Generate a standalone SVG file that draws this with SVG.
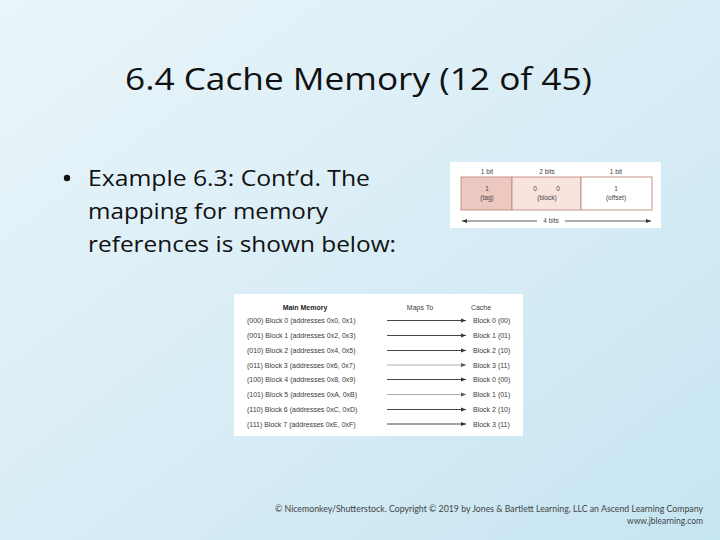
<svg xmlns="http://www.w3.org/2000/svg" width="720" height="540" viewBox="0 0 720 540">
  <defs>
    <linearGradient id="bg" x1="0" y1="0" x2="1" y2="1">
      <stop offset="0" stop-color="#eaf5fa"/>
      <stop offset="0.5" stop-color="#d9edf6"/>
      <stop offset="1" stop-color="#c6e5f2"/>
    </linearGradient>
    <marker id="ah" viewBox="0 0 10 10" refX="10" refY="5" markerWidth="6" markerHeight="5" orient="auto" markerUnits="userSpaceOnUse">
      <path d="M0,1 L10,5 L0,9 Z" fill="#333"/>
    </marker>
    <marker id="ahl" viewBox="0 0 10 10" refX="10" refY="5" markerWidth="6" markerHeight="5" orient="auto" markerUnits="userSpaceOnUse">
      <path d="M0,1 L10,5 L0,9 Z" fill="#555"/>
    </marker>
  </defs>
  <style>
    .title { font-family: "Open Sans", "Liberation Sans", sans-serif; font-size: 31px; fill: #111; }
    .body { font-family: "Open Sans", "Liberation Sans", sans-serif; font-size: 21px; fill: #111; }
    .sm { font-family: "Liberation Sans", Arial, sans-serif; font-size: 7px; fill: #3a3a3a; }
    .smb { font-family: "Liberation Sans", Arial, sans-serif; font-size: 7px; fill: #222; font-weight: bold; }
    .tiny { font-family: "Liberation Sans", Arial, sans-serif; font-size: 6.5px; fill: #444; text-anchor: middle; }
    .foot { font-family: "Lato", "Noto Sans", sans-serif; font-size: 9px; fill: #444; text-anchor: end; }
    .arr { stroke: #333; stroke-width: 0.9; fill: none; marker-end: url(#ah); }
    .arrl { stroke: #888; stroke-width: 0.7; fill: none; marker-end: url(#ahl); }
    .panel { fill: #ffffff; }
    .cell { stroke: #c28a80; stroke-width: 0.9; }
  </style>
  <rect width="720" height="540" fill="url(#bg)"/>

  <g id="title">
    <text class="title" x="125" y="90" textLength="467" lengthAdjust="spacingAndGlyphs">6.4 Cache Memory (12 of 45)</text>
  </g>

  <g id="bullet">
    <circle cx="67" cy="178" r="3.2" fill="#111"/>
    <text class="body" x="88" y="186" textLength="282" lengthAdjust="spacingAndGlyphs">Example 6.3: Cont’d. The</text>
    <text class="body" x="88" y="219" textLength="240" lengthAdjust="spacingAndGlyphs">mapping for memory</text>
    <text class="body" x="88" y="252" textLength="308" lengthAdjust="spacingAndGlyphs">references is shown below:</text>
  </g>

  <g id="address-format">
    <rect class="panel" x="450" y="162" width="211" height="66"/>
    <text class="tiny" x="487" y="174">1 bit</text>
    <text class="tiny" x="547" y="174">2 bits</text>
    <text class="tiny" x="616" y="174">1 bit</text>
    <rect class="cell" x="461" y="177" width="51" height="33" fill="#ecc8c0"/>
    <rect class="cell" x="512" y="177" width="69" height="33" fill="#f8e3df"/>
    <rect class="cell" x="581" y="177" width="71" height="33" fill="#ffffff"/>
    <text class="tiny" x="487" y="191">1</text>
    <text class="tiny" x="487" y="200">(tag)</text>
    <text class="tiny" x="535" y="191">0</text>
    <text class="tiny" x="558" y="191">0</text>
    <text class="tiny" x="547" y="200">(block)</text>
    <text class="tiny" x="616" y="191">1</text>
    <text class="tiny" x="616" y="200">(offset)</text>
    <text class="tiny" x="551" y="223">4 bits</text>
  </g>

  <g id="mapping-table">
    <rect class="panel" x="234" y="294" width="289" height="142"/>
    <text class="smb" x="305" y="310" text-anchor="middle">Main Memory</text>
    <text class="sm" x="420" y="310" text-anchor="middle">Maps To</text>
    <text class="sm" x="481" y="310" text-anchor="middle">Cache</text>

    <text class="sm" x="247" y="323">(000) Block 0 (addresses 0x0, 0x1)</text>
    <text class="sm" x="247" y="338">(001) Block 1 (addresses 0x2, 0x3)</text>
    <text class="sm" x="247" y="353">(010) Block 2 (addresses 0x4, 0x5)</text>
    <text class="sm" x="247" y="367.5">(011) Block 3 (addresses 0x6, 0x7)</text>
    <text class="sm" x="247" y="382">(100) Block 4 (addresses 0x8, 0x9)</text>
    <text class="sm" x="247" y="397">(101) Block 5 (addresses 0xA, 0xB)</text>
    <text class="sm" x="247" y="412">(110) Block 6 (addresses 0xC, 0xD)</text>
    <text class="sm" x="247" y="426.5">(111) Block 7 (addresses 0xE, 0xF)</text>

    <text class="sm" x="473" y="323">Block 0 (00)</text>
    <text class="sm" x="473" y="338">Block 1 (01)</text>
    <text class="sm" x="473" y="353">Block 2 (10)</text>
    <text class="sm" x="473" y="367.5">Block 3 (11)</text>
    <text class="sm" x="473" y="382">Block 0 (00)</text>
    <text class="sm" x="473" y="397">Block 1 (01)</text>
    <text class="sm" x="473" y="412">Block 2 (10)</text>
    <text class="sm" x="473" y="426.5">Block 3 (11)</text>
  </g>

  <g id="connectors">
    <line x1="537" y1="221" x2="462" y2="221" stroke="#333" stroke-width="0.8" marker-end="url(#ah)"/>
    <line x1="565" y1="221" x2="651" y2="221" stroke="#333" stroke-width="0.8" marker-end="url(#ah)"/>
    <line class="arr" x1="387" y1="320.5" x2="466" y2="320.5"/>
    <line class="arr" x1="387" y1="335.5" x2="466" y2="335.5"/>
    <line class="arr" x1="387" y1="350.5" x2="466" y2="350.5"/>
    <line class="arrl" x1="387" y1="365" x2="466" y2="365"/>
    <line class="arr" x1="387" y1="379.5" x2="466" y2="379.5"/>
    <line class="arrl" x1="387" y1="394.5" x2="466" y2="394.5"/>
    <line class="arr" x1="387" y1="409.5" x2="466" y2="409.5"/>
    <line class="arr" x1="387" y1="424" x2="466" y2="424"/>
  </g>

  <g id="footer">
    <text class="foot" x="703" y="512" textLength="428" lengthAdjust="spacingAndGlyphs">© Nicemonkey/Shutterstock. Copyright © 2019 by Jones &amp; Bartlett Learning, LLC an Ascend Learning Company</text>
    <text class="foot" x="703" y="524" textLength="76" lengthAdjust="spacingAndGlyphs">www.jblearning.com</text>
  </g>
</svg>
